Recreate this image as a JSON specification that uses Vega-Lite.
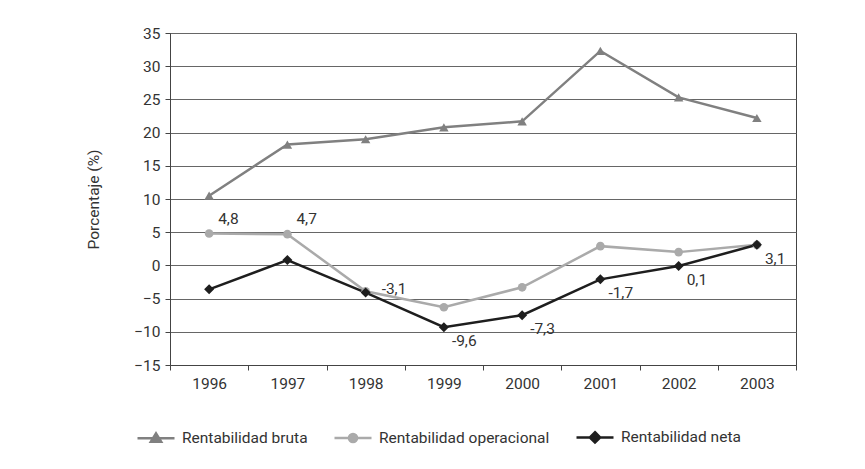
{
  "$schema": "https://vega.github.io/schema/vega-lite/v6.json",
  "width": 626,
  "height": 332,
  "autosize": {"type": "none"},
  "padding": {"left": 170, "top": 33, "right": 69, "bottom": 104},
  "background": "white",
  "config": {
    "font": "Roboto",
    "view": {"stroke": "#444", "strokeWidth": 1},
    "axis": {"labelFont": "Roboto", "titleFont": "Roboto", "labelColor": "#333", "titleColor": "#333", "labelFontSize": 15.5, "titleFontSize": 15.5, "titleFontWeight": "normal", "domainColor": "#444", "tickColor": "#444"},
    "legend": {"labelFont": "Roboto", "labelFontSize": 15.5, "labelColor": "#333", "labelLimit": 0}
  },
  "data": {
    "values": [
      {"year": "1996", "serie": "Rentabilidad bruta", "valor": 10.5},
      {"year": "1997", "serie": "Rentabilidad bruta", "valor": 18.2},
      {"year": "1998", "serie": "Rentabilidad bruta", "valor": 19.0},
      {"year": "1999", "serie": "Rentabilidad bruta", "valor": 20.8},
      {"year": "2000", "serie": "Rentabilidad bruta", "valor": 21.7},
      {"year": "2001", "serie": "Rentabilidad bruta", "valor": 32.3},
      {"year": "2002", "serie": "Rentabilidad bruta", "valor": 25.3},
      {"year": "2003", "serie": "Rentabilidad bruta", "valor": 22.2},
      {"year": "1996", "serie": "Rentabilidad operacional", "valor": 4.8, "etiqueta": "4,8", "pos": "above"},
      {"year": "1997", "serie": "Rentabilidad operacional", "valor": 4.7, "etiqueta": "4,7", "pos": "above"},
      {"year": "1998", "serie": "Rentabilidad operacional", "valor": -3.9},
      {"year": "1999", "serie": "Rentabilidad operacional", "valor": -6.3},
      {"year": "2000", "serie": "Rentabilidad operacional", "valor": -3.3},
      {"year": "2001", "serie": "Rentabilidad operacional", "valor": 2.9},
      {"year": "2002", "serie": "Rentabilidad operacional", "valor": 2.0},
      {"year": "2003", "serie": "Rentabilidad operacional", "valor": 3.1},
      {"year": "1996", "serie": "Rentabilidad neta", "valor": -3.6},
      {"year": "1997", "serie": "Rentabilidad neta", "valor": 0.8},
      {"year": "1998", "serie": "Rentabilidad neta", "valor": -4.1, "etiqueta": "-3,1", "pos": "right"},
      {"year": "1999", "serie": "Rentabilidad neta", "valor": -9.3, "etiqueta": "-9,6", "pos": "below"},
      {"year": "2000", "serie": "Rentabilidad neta", "valor": -7.5, "etiqueta": "-7,3", "pos": "below"},
      {"year": "2001", "serie": "Rentabilidad neta", "valor": -2.1, "etiqueta": "-1,7", "pos": "below"},
      {"year": "2002", "serie": "Rentabilidad neta", "valor": -0.1, "etiqueta": "0,1", "pos": "below"},
      {"year": "2003", "serie": "Rentabilidad neta", "valor": 3.1, "etiqueta": "3,1", "pos": "below"}
    ]
  },
  "encoding": {
    "x": {"field": "year", "type": "ordinal", "scale": {"type": "band", "paddingInner": 0, "paddingOuter": 0},
      "axis": {"title": null, "labelAngle": 0, "tickBand": "extent", "tickSize": 5, "labelPadding": 6, "grid": false}},
    "y": {"field": "valor", "type": "quantitative", "scale": {"domain": [-15, 35], "nice": false, "zero": false},
      "axis": {"title": "Porcentaje (%)", "values": [-15, -10, -5, 0, 5, 10, 15, 20, 25, 30, 35], "grid": true, "gridColor": "#666", "gridWidth": 1, "tickSize": 5, "labelPadding": 5, "titlePadding": 32}}
  },
  "layer": [
    {
      "mark": {"type": "point", "filled": true, "opacity": 1, "size": 1},
      "encoding": {
        "shape": {"field": "serie", "type": "nominal",
          "scale": {"domain": ["Rentabilidad bruta", "Rentabilidad operacional", "Rentabilidad neta"],
            "range": ["M-1,0H1M0,-0.26L0.28,0.2L-0.28,0.2Z", "M-1,0H1M0.22,0A0.22,0.22 0 1,1 -0.22,0A0.22,0.22 0 1,1 0.22,0Z", "M-1,0H1M0,-0.28L0.28,0L0,0.28L-0.28,0Z"]},
          "legend": {"title": null, "orient": "none", "legendX": -34, "legendY": 384, "direction": "horizontal", "columns": 3, "symbolSize": 1369, "symbolStrokeWidth": 2.5, "labelOffset": 6, "columnPadding": 21}},
        "fill": {"field": "serie", "type": "nominal",
          "scale": {"domain": ["Rentabilidad bruta", "Rentabilidad operacional", "Rentabilidad neta"], "range": ["#808080", "#aaaaaa", "#1e1e1e"]}},
        "stroke": {"field": "serie", "type": "nominal",
          "scale": {"domain": ["Rentabilidad bruta", "Rentabilidad operacional", "Rentabilidad neta"], "range": ["#808080", "#aaaaaa", "#1e1e1e"]}}
      }
    },
    {
      "mark": {"type": "line", "strokeWidth": 2.5},
      "encoding": {
        "color": {"field": "serie", "type": "nominal", "legend": null,
          "scale": {"domain": ["Rentabilidad bruta", "Rentabilidad operacional", "Rentabilidad neta"], "range": ["#808080", "#aaaaaa", "#1e1e1e"]}}
      }
    },
    {
      "transform": [{"filter": "datum.serie == 'Rentabilidad bruta'"}],
      "mark": {"type": "point", "shape": "triangle-up", "filled": true, "opacity": 1, "size": 90, "color": "#808080"}
    },
    {
      "transform": [{"filter": "datum.serie == 'Rentabilidad operacional'"}],
      "mark": {"type": "point", "shape": "circle", "filled": true, "opacity": 1, "size": 75, "color": "#aaaaaa"}
    },
    {
      "transform": [{"filter": "datum.serie == 'Rentabilidad neta'"}],
      "mark": {"type": "point", "shape": "diamond", "filled": true, "opacity": 1, "size": 100, "color": "#1e1e1e"}
    },
    {
      "transform": [{"filter": "datum.pos == 'above'"}],
      "mark": {"type": "text", "align": "left", "baseline": "middle", "dx": 9, "dy": -15, "fontSize": 15.5, "color": "#333"},
      "encoding": {"text": {"field": "etiqueta"}}
    },
    {
      "transform": [{"filter": "datum.pos == 'right'"}],
      "mark": {"type": "text", "align": "left", "baseline": "middle", "dx": 16, "dy": -4, "fontSize": 15.5, "color": "#333"},
      "encoding": {"text": {"field": "etiqueta"}}
    },
    {
      "transform": [{"filter": "datum.pos == 'below'"}],
      "mark": {"type": "text", "align": "left", "baseline": "middle", "dx": 8, "dy": 14, "fontSize": 15.5, "color": "#333"},
      "encoding": {"text": {"field": "etiqueta"}}
    }
  ]
}
